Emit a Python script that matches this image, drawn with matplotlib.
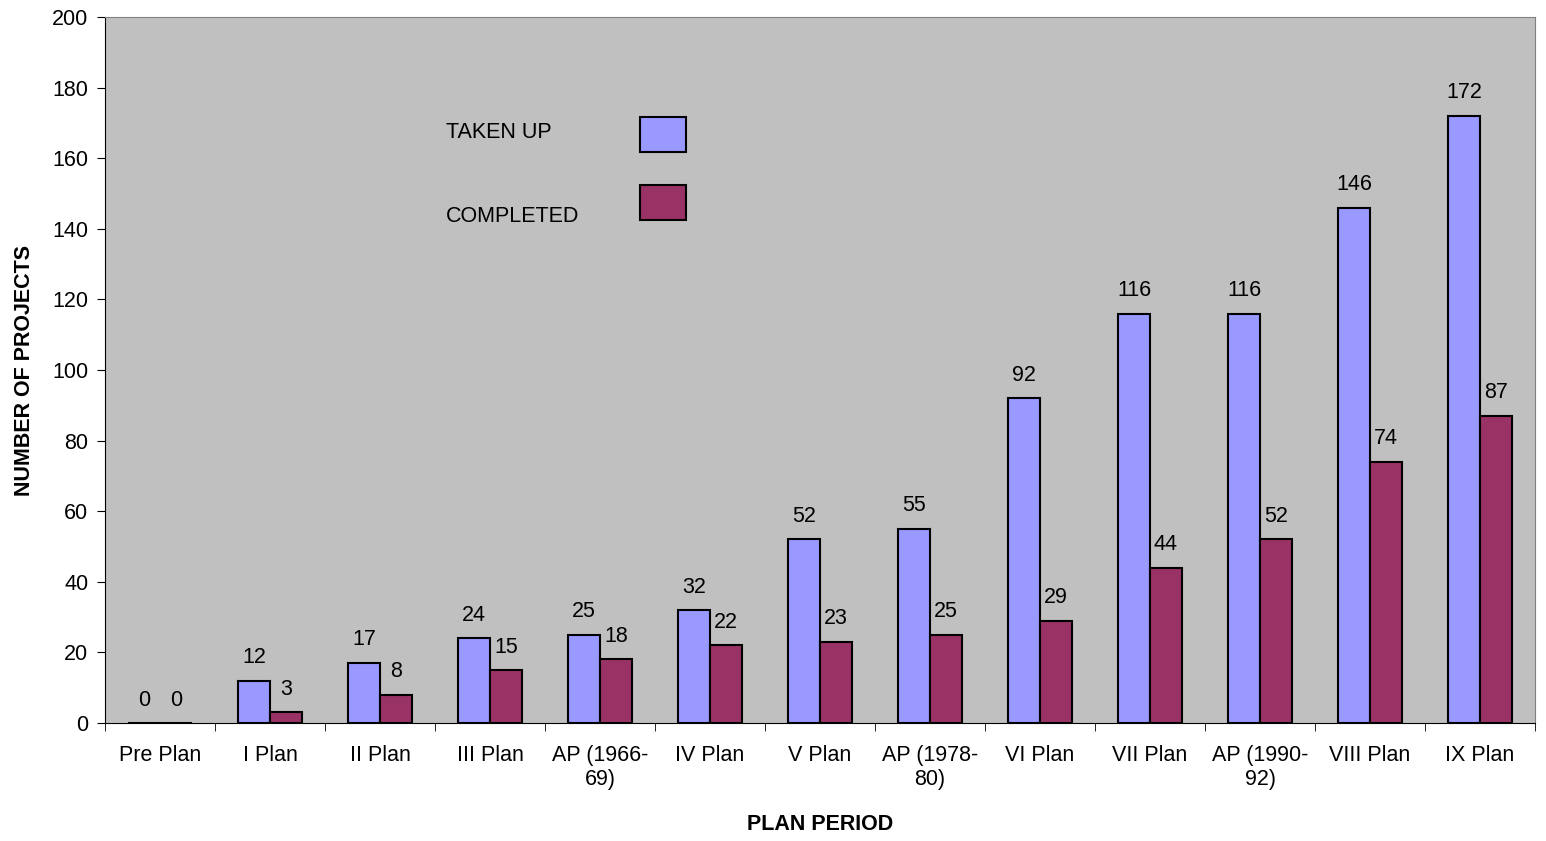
import matplotlib.pyplot as plt
from matplotlib.patches import Rectangle
import numpy as np

plans = ['Pre Plan', 'I Plan', 'II Plan', 'III Plan', 'AP (1966-\n69)', 'IV Plan', 'V Plan',
         'AP (1978-\n80)', 'VI Plan', 'VII Plan', 'AP (1990-\n92)', 'VIII Plan', 'IX Plan']
taken_up = [0, 12, 17, 24, 25, 32, 52, 55, 92, 116, 116, 146, 172]
completed = [0, 3, 8, 15, 18, 22, 23, 25, 29, 44, 52, 74, 87]
series_names = ['TAKEN UP', 'COMPLETED']
colors = ['#9999FF', '#993366']

plt.rcParams['font.family'] = ['Liberation Sans', 'DejaVu Sans']
fs = 15.5

fig = plt.figure(figsize=(15.46, 8.41), dpi=100)
ax = fig.add_axes([105/1546, 1 - 723/841, 1430/1546, 706/841])
ax.set_facecolor('#C0C0C0')

x = np.arange(len(plans))
w = 0.29
b1 = ax.bar(x - w/2, taken_up, w, color=colors[0], edgecolor='black', linewidth=1.5)
b2 = ax.bar(x + w/2, completed, w, color=colors[1], edgecolor='black', linewidth=1.5)
ax.bar_label(b1, padding=9, fontsize=fs)
ax.bar_label(b2, padding=9, fontsize=fs)

ax.set_xlim(-0.5, len(plans) - 0.5)
ax.set_ylim(0, 200)
ax.set_yticks(range(0, 201, 20))
ax.set_xticks(x)
ax.set_xticklabels(plans)
ax.set_xticks(np.arange(-0.5, len(plans), 1), minor=True)
ax.tick_params(axis='x', which='major', length=0, pad=16, labelsize=fs)
ax.tick_params(axis='x', which='minor', length=6, direction='out')
ax.tick_params(axis='y', length=6, labelsize=fs, pad=6)

for s in ax.spines.values():
    s.set_color('#808080')
ax.spines['left'].set_color('black')
ax.spines['bottom'].set_color('black')

ax.set_xlabel('PLAN PERIOD', fontsize=fs, fontweight='bold', labelpad=17)
ax.set_ylabel('NUMBER OF PROJECTS', fontsize=fs, fontweight='bold', labelpad=12)

# legend drawn by hand: text left, swatch right, as in the original
def px(xp, yp):
    return (xp - 105) / 1430, (723 - yp) / 706

for name, col, text_y, box_top in zip(series_names, colors, [133, 216], [117, 185]):
    tx, ty = px(446, text_y)
    ax.text(tx, ty, name, transform=ax.transAxes, fontsize=fs, va='center', ha='left')
    bx, by = px(640, box_top + 35)
    ax.add_patch(Rectangle((bx, by), 46/1430, 35/706, transform=ax.transAxes,
                           facecolor=col, edgecolor='black', linewidth=1.5))

fig.savefig('out.png', dpi=100)
